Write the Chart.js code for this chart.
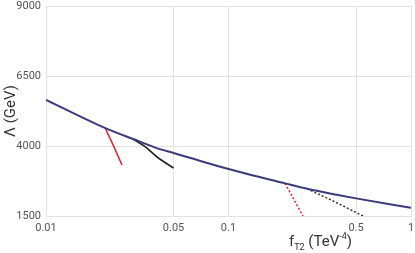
<!DOCTYPE html>
<html><head><meta charset="utf-8">
<script src="https://cdn.jsdelivr.net/npm/chart.js@4/dist/chart.umd.min.js"></script>
<style>html,body{margin:0;padding:0;background:#fff}canvas{display:block}</style>
</head><body>
<canvas id="c" width="415" height="253"></canvas>
<script>
// Data
const xTicks = [0.01, 0.05, 0.1, 0.5, 1];
const yTicks = [1500, 4000, 6500, 9000];

const mainX = [0.01, 0.021, 0.03, 0.042, 0.05, 0.062, 0.1, 0.204, 0.27, 0.4, 0.5, 1];
const mainY = [5650, 4650, 4250, 3890, 3750, 3570, 3180, 2665, 2470, 2250, 2130, 1790];

const redSolidX = [0.0211, 0.0235, 0.0261];
const redSolidY = [4643, 3990, 3321];

const blackSolidX = [0.030, 0.0349, 0.0406, 0.05];
const blackSolidY = [4250, 3976, 3607, 3214];

const redDotX = [0.204, 0.256];
const redDotY = [2665, 1500];

const blackDotX = [0.27, 0.394, 0.546];
const blackDotY = [2470, 1964, 1500];

function pts(xs, ys){ return xs.map((x,i)=>({x:x, y:ys[i]})); }

const FONT = 'Roboto, "Liberation Sans", Arial, sans-serif';

const xTitle = {
  id:'xTitle',
  afterDraw(chart){
    const ctx = chart.ctx;
    ctx.save();
    ctx.fillStyle = '#333';
    ctx.textBaseline = 'alphabetic';
    let x = 289, y = 246;
    const parts = [
      ['f', 15, 0], ['T2', 9, 4], [' (TeV', 15, 0], ['-4', 9, -7], [')', 15, 0]
    ];
    for (const [t, s, dy] of parts){
      ctx.font = s + 'px ' + FONT;
      ctx.fillText(t, x, y + dy);
      x += ctx.measureText(t).width;
    }
    ctx.restore();
  }
};

new Chart(document.getElementById('c'), {
  type: 'line',
  data: {
    datasets: [
      {data: pts(mainX, mainY), borderColor:'#3b3a7a', borderWidth:2, pointRadius:0, cubicInterpolationMode:'monotone', fill:false},
      {data: pts(redSolidX, redSolidY), borderColor:'#e3222b', borderWidth:1.6, pointRadius:0, fill:false},
      {data: pts(blackSolidX, blackSolidY), borderColor:'#222', borderWidth:1.6, pointRadius:0, cubicInterpolationMode:'monotone', fill:false},
      {data: pts(redDotX, redDotY), borderColor:'#e3222b', borderWidth:1.5, borderDash:[2,2], pointRadius:0, fill:false},
      {data: pts(blackDotX, blackDotY), borderColor:'#333', borderWidth:1.5, borderDash:[2,2], pointRadius:0, cubicInterpolationMode:'monotone', fill:false}
    ]
  },
  options: {
    responsive:false, animation:false,
    layout:{padding:{top:6, right:4, left:0, bottom:0}},
    plugins:{legend:{display:false}, tooltip:{enabled:false}},
    scales:{
      x:{
        type:'logarithmic', min:0.01, max:1,
        afterBuildTicks(scale){ scale.ticks = xTicks.map(v=>({value:v})); },
        afterFit(scale){ scale.height = 37; scale.paddingLeft = 0; scale.paddingRight = 0; },
        grid:{color:'#e2e2e2', drawTicks:false, lineWidth:1},
        border:{color:'#e2e2e2'},
        ticks:{padding:6, color:'#555', font:{family:FONT, size:11}, maxRotation:0, autoSkip:false,
          callback:(v)=>String(v)}
      },
      y:{
        type:'linear', min:1500, max:9000,
        afterBuildTicks(scale){ scale.ticks = yTicks.map(v=>({value:v})); },
        afterFit(scale){ scale.width = 46; scale.paddingTop = 0; scale.paddingBottom = 0; },
        grid:{color:'#e2e2e2', drawTicks:false, lineWidth:1},
        border:{color:'#e2e2e2'},
        ticks:{padding:5, color:'#555', font:{family:FONT, size:11}, callback:(v)=>String(v)},
        title:{display:true, text:'Λ (GeV)', color:'#333', font:{family:FONT, size:15}, padding:{top:2,bottom:0}}
      }
    }
  },
  plugins:[xTitle]
});
</script>
</body></html>
